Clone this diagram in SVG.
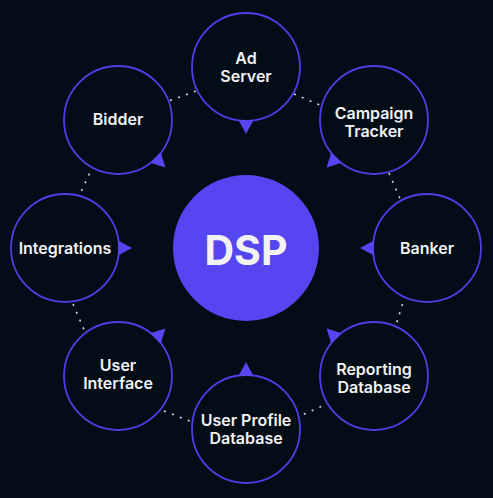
<svg xmlns="http://www.w3.org/2000/svg" width="493" height="498" viewBox="0 0 493 498">
  <style>
    .bg { fill: #020d17; }
    .node { fill: #020d17; stroke: #4c3fe6; stroke-width: 1.8; }
    .tri { fill: #5646f2; }
    .lbl { font-family: Inter, "Noto Sans", "Liberation Sans", sans-serif; font-weight: 600; font-size: 16px; fill: #f2f2f4; text-anchor: middle; }
    .hub { font-family: Inter, "Noto Sans", "Liberation Sans", sans-serif; font-weight: 700; font-size: 41px; fill: #f2f2f4; text-anchor: middle; }
    .conn { stroke: #d6d8e0; stroke-width: 1.6; stroke-dasharray: 2 6.5; fill: none; }
  </style>
  <defs>
    <path id="tri" d="M-7.5,53 L7.5,53 L0,67 Z"/>
  </defs>
  <rect class="bg" x="0" y="0" width="493" height="498"/>

  <g id="connectors">
    <path class="conn" d="M170,100.5 L199,90"/>
    <path class="conn" d="M294,94 L322,106"/>
    <path class="conn" d="M389,173 L401,201"/>
    <path class="conn" d="M405,296 L396,325"/>
    <path class="conn" d="M329,403 L302,415"/>
    <path class="conn" d="M164,411 L192,422"/>
    <path class="conn" d="M73,304 L85,332"/>
    <path class="conn" d="M93,166 L80,194"/>
  </g>

  <g id="dsp">
    <circle cx="246" cy="248" r="73" fill="#5646f2"/>
    <text class="hub" x="246" y="265">DSP</text>
  </g>

  <g id="ad-server" transform="translate(246,67)">
    <circle class="node" r="54"/>
    <use href="#tri" class="tri" transform="rotate(0)"/>
    <text class="lbl" x="0" y="-3">Ad</text>
    <text class="lbl" x="0" y="15">Server</text>
  </g>

  <g id="campaign-tracker" transform="translate(374,120)">
    <circle class="node" r="54"/>
    <use href="#tri" class="tri" transform="rotate(45)"/>
    <text class="lbl" x="0" y="-1">Campaign</text>
    <text class="lbl" x="0" y="17">Tracker</text>
  </g>

  <g id="banker" transform="translate(427,248)">
    <circle class="node" r="54"/>
    <use href="#tri" class="tri" transform="rotate(90)"/>
    <text class="lbl" x="0" y="6">Banker</text>
  </g>

  <g id="reporting-database" transform="translate(374,376)">
    <circle class="node" r="54"/>
    <use href="#tri" class="tri" transform="rotate(135)"/>
    <text class="lbl" x="0" y="-1">Reporting</text>
    <text class="lbl" x="0" y="17">Database</text>
  </g>

  <g id="user-profile-database" transform="translate(246,429)">
    <circle class="node" r="54"/>
    <use href="#tri" class="tri" transform="rotate(180)"/>
    <text class="lbl" x="0" y="-3">User Profile</text>
    <text class="lbl" x="0" y="15">Database</text>
  </g>

  <g id="user-interface" transform="translate(118,376)">
    <circle class="node" r="54"/>
    <use href="#tri" class="tri" transform="rotate(225)"/>
    <text class="lbl" x="0" y="-5">User</text>
    <text class="lbl" x="0" y="13">Interface</text>
  </g>

  <g id="integrations" transform="translate(65,248)">
    <circle class="node" r="54"/>
    <use href="#tri" class="tri" transform="rotate(270)"/>
    <text class="lbl" x="0" y="6">Integrations</text>
  </g>

  <g id="bidder" transform="translate(118,120)">
    <circle class="node" r="54"/>
    <use href="#tri" class="tri" transform="rotate(315)"/>
    <text class="lbl" x="0" y="5">Bidder</text>
  </g>
</svg>
